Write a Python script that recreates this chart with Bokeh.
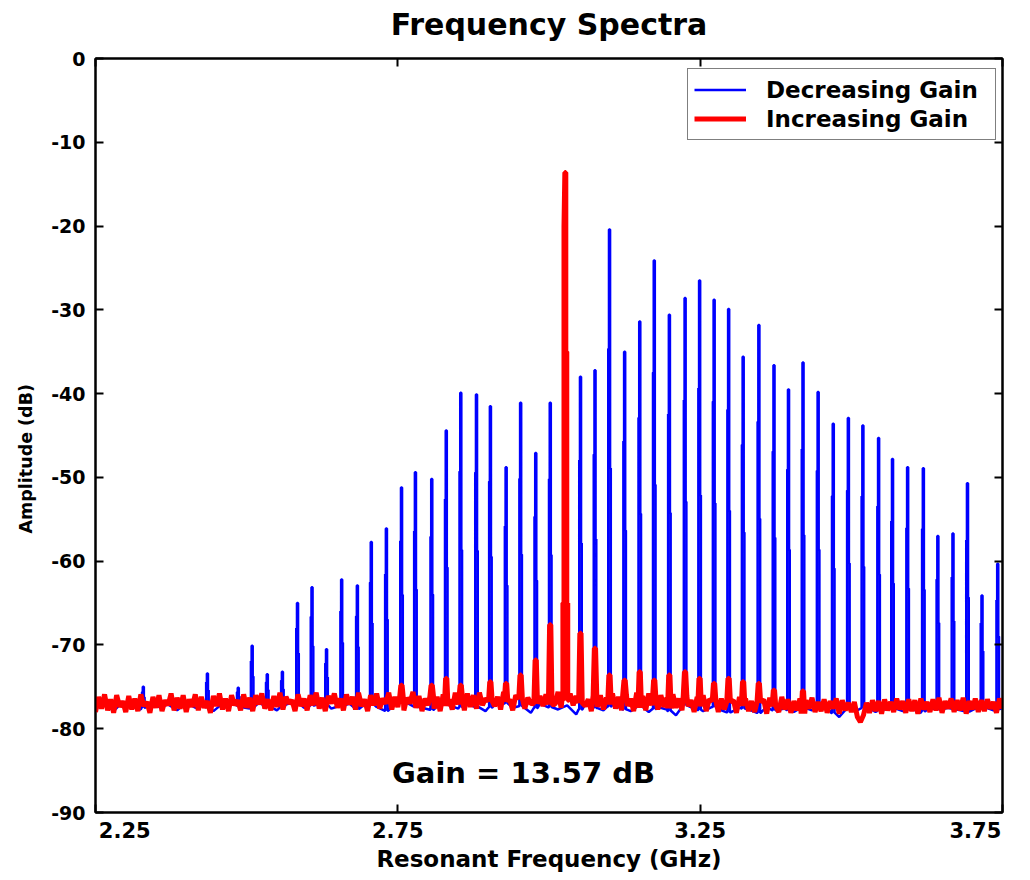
import numpy as np
from bokeh.plotting import figure
from bokeh.models import Range1d, FixedTicker, LinearAxis, Label, Legend, LegendItem, Title
from bokeh.embed import file_html
from bokeh.resources import INLINE

FONT = "DejaVu Sans"

# ---------------- data ----------------
chart_title = "Frequency Spectra"
x_ticks = [2.25, 2.75, 3.25, 3.75]
x_tick_labels = ["2.25", "2.75", "3.25", "3.75"]
y_ticks = [-90, -80, -70, -60, -50, -40, -30, -20, -10, 0]
y_tick_labels = ["-90", "-80", "-70", "-60", "-50", "-40", "-30", "-20", "-10", "0"]

# resonance spikes of the "Decreasing Gain" trace (GHz, dB peak)
blue_spike_ghz = [2.329, 2.435, 2.486, 2.509, 2.534, 2.559, 2.584, 2.608, 2.632, 2.657,
                  2.683, 2.706, 2.731, 2.756, 2.779, 2.806, 2.830, 2.854, 2.880, 2.903,
                  2.929, 2.953, 2.978, 3.002, 3.052, 3.076, 3.100, 3.125, 3.150, 3.174,
                  3.199, 3.225, 3.249, 3.273, 3.297, 3.321, 3.347, 3.372, 3.396, 3.420,
                  3.445, 3.470, 3.495, 3.519, 3.545, 3.568, 3.593, 3.619, 3.643, 3.668,
                  3.692, 3.716, 3.742]
blue_spike_db = [-75.0, -73.4, -75.1, -70.1, -73.5, -73.2, -65.0, -63.1, -70.5, -62.2,
                 -62.9, -57.7, -56.1, -51.2, -49.4, -50.2, -44.4, -39.9, -40.1, -41.5,
                 -48.8, -41.1, -47.1, -41.1, -38.0, -37.2, -20.4, -35.0, -31.4, -24.1,
                 -30.6, -28.6, -26.5, -28.8, -29.9, -35.6, -31.8, -36.6, -39.5, -36.3,
                 -39.8, -43.6, -42.9, -43.8, -45.3, -47.8, -48.8, -48.9, -57.0, -56.7,
                 -50.7, -64.1, -60.3]

# small bumps of the "Increasing Gain" trace
red_spike_ghz = [2.756, 2.806, 2.830, 2.854, 2.903, 2.929, 2.953, 2.978, 3.002, 3.052,
                 3.076, 3.100, 3.125, 3.150, 3.174, 3.199, 3.225, 3.249, 3.273, 3.297,
                 3.321, 3.347, 3.372, 3.420]
red_spike_db = [-74.8, -74.8, -74.0, -74.8, -74.4, -74.6, -73.6, -71.8, -67.6, -68.6,
                -70.4, -73.6, -74.2, -73.2, -74.2, -73.6, -73.2, -74.0, -74.6, -74.0,
                -74.4, -74.6, -75.4, -75.5]

# dominant mode of the "Increasing Gain" trace
red_peak_ghz = 3.027
red_peak_offset_ghz = [-0.0055, -0.0040, -0.0040, -0.0022, -0.0022, -0.0008, 0.0008,
                       0.0008, 0.0024, 0.0024, 0.0040, 0.0040, 0.0055]
red_peak_db = [-76.6, -76.6, -65.0, -65.0, -20.1, -13.6, -13.6,
               -35.0, -35.0, -65.0, -65.0, -76.6, -76.6]

# noise floor, Decreasing Gain (2.25 .. 3.75 GHz, 101 samples)
blue_floor_db = [-77.6, -77.0, -77.9, -76.8, -77.3, -77.7, -76.9, -77.4, -77.1, -77.8,
                 -76.9, -77.5, -77.2, -77.9, -77.0, -76.7, -77.4, -77.6, -76.9, -77.3,
                 -77.8, -77.1, -76.8, -77.5, -77.2, -76.9, -77.6, -77.3, -77.0, -77.7,
                 -76.8, -77.4, -77.9, -77.1, -76.7, -77.3, -77.5, -77.8, -76.9, -77.2,
                 -77.6, -77.0, -77.4, -77.9, -77.1, -76.8, -77.5, -77.3, -78.1, -77.0,
                 -77.4, -77.7, -77.2, -78.3, -77.0, -77.5, -77.8, -77.1, -77.6, -77.9,
                 -77.3, -78.0, -77.4, -77.7, -78.4, -77.2, -77.6, -77.9, -77.3, -77.8,
                 -78.1, -77.5, -77.7, -78.2, -77.4, -77.9, -77.6, -78.0, -77.5, -77.8,
                 -77.3, -77.9, -78.6, -77.6, -77.8, -77.4, -78.0, -77.7, -77.5, -77.9,
                 -77.6, -78.1, -77.4, -77.8, -77.5, -77.7, -78.0, -77.6, -77.3, -77.8,
                 -77.5]

# noise floor, Increasing Gain (2.25 .. 3.75 GHz, 301 samples)
red_floor_db = [-78.0, -76.2, -77.6, -75.9, -77.8, -76.5, -78.1, -76.0, -77.4, -76.7,
                -78.0, -76.1, -77.7, -76.4, -77.9, -75.9, -77.3, -76.8, -78.1, -76.2,
                -77.5, -76.0, -77.9, -76.6, -77.2, -75.8, -77.8, -76.3, -77.6, -76.0,
                -78.0, -76.5, -77.4, -75.9, -77.8, -76.2, -77.5, -76.7, -78.1, -76.1,
                -77.3, -75.8, -77.7, -76.4, -77.9, -76.0, -77.2, -76.6, -77.8, -75.9,
                -77.5, -76.3, -77.9, -76.0, -77.1, -75.8, -77.6, -76.5, -77.8, -76.1,
                -77.4, -75.7, -77.7, -76.2, -77.0, -76.6, -77.9, -75.9, -77.3, -76.4,
                -77.8, -76.0, -77.2, -75.7, -77.6, -76.3, -77.9, -76.1, -77.0, -75.8,
                -77.5, -76.4, -77.8, -75.9, -77.1, -76.2, -77.7, -75.7, -77.3, -76.5,
                -77.9, -76.0, -77.2, -75.8, -77.6, -76.4, -77.0, -75.7, -77.7, -76.2,
                -77.4, -75.9, -77.8, -76.3, -77.0, -75.6, -77.5, -76.1, -77.9, -76.4,
                -77.2, -75.8, -77.6, -76.2, -77.9, -75.9, -77.3, -76.5, -77.7, -75.7,
                -77.1, -76.3, -77.8, -75.8, -77.4, -76.0, -77.6, -75.7, -77.2, -76.4,
                -77.9, -75.9, -77.3, -76.2, -77.7, -75.6, -77.1, -76.5, -77.8, -76.0,
                -77.4, -75.8, -77.6, -76.3, -77.0, -75.7, -77.9, -76.1, -77.3, -75.9,
                -77.7, -76.2, -77.1, -75.6, -77.5, -76.4, -77.8, -75.8, -77.2, -76.1,
                -77.6, -75.9, -77.3, -76.5, -77.9, -75.7, -77.4, -76.0, -77.7, -76.3,
                -77.1, -75.8, -77.6, -76.2, -77.8, -75.9, -77.3, -76.4, -77.9, -75.7,
                -77.5, -76.1, -77.8, -75.8, -77.2, -76.5, -77.7, -76.0, -77.4, -76.3,
                -77.9, -75.9, -77.5, -76.4, -77.8, -76.1, -77.3, -76.6, -78.0, -76.2,
                -77.6, -76.0, -77.9, -76.5, -77.4, -76.2, -78.0, -76.4, -77.7, -76.1,
                -77.8, -76.6, -78.1, -76.2, -77.5, -76.4, -77.9, -76.7, -78.0, -76.3,
                -77.6, -76.5, -78.2, -76.3, -77.8, -76.6, -78.0, -76.2, -77.7, -76.5,
                -78.1, -76.7, -77.8, -76.4, -78.2, -76.6, -77.6, -76.3, -78.0, -76.8,
                -77.9, -76.5, -78.1, -76.7, -77.6, -76.4, -78.2, -76.6, -77.8, -76.9,
                -78.0, -76.8, -78.6, -79.2, -78.4, -76.9, -78.1, -76.6, -77.9, -76.7,
                -78.2, -76.5, -77.8, -76.8, -78.0, -76.4, -77.7, -76.7, -78.1, -76.5,
                -77.9, -76.6, -78.2, -76.4, -77.7, -76.8, -78.0, -76.5, -77.8, -76.3,
                -78.1, -76.7, -77.6, -76.4, -78.0, -76.6, -77.8, -76.3, -78.2, -76.7,
                -77.7, -76.4, -78.0, -76.6, -77.9, -76.5, -77.6, -76.8, -78.1, -76.4,
                -77.6]

# ---------------- trace assembly ----------------
F_MIN, F_MAX = 2.25, 3.75
blue_floor_ghz = np.linspace(F_MIN, F_MAX, len(blue_floor_db))
red_floor_ghz = np.linspace(F_MIN, F_MAX, len(red_floor_db))

# spike profile: (frequency offset, fraction of the rise above the floor)
BLUE_SHAPE_OFF = [-0.0030, -0.0020, -0.0020, -0.0008, -0.0008, 0.0010, 0.0010, 0.0022, 0.0022, 0.0032]
BLUE_SHAPE_FRAC = [0.0, 0.0, 0.75, 0.75, 1.0, 1.0, 0.5, 0.5, 0.0, 0.0]
RED_SHAPE_OFF = [-0.0030, -0.0010, 0.0010, 0.0030]
RED_SHAPE_FRAC = [0.0, 1.0, 1.0, 0.0]


def assemble(fx, fy, sx, sy, offs, fracs, keep_out, extra=None):
    fx = np.asarray(fx, float)
    fy = np.asarray(fy, float)
    centres = list(sx) + ([extra[0]] if extra else [])
    mask = np.ones(len(fx), bool)
    for c in centres:
        mask &= np.abs(fx - c) > keep_out
    xs = list(fx[mask])
    ys = list(fy[mask])
    for f, h in zip(sx, sy):
        base = float(np.interp(f, fx, fy))
        for o, fr in zip(offs, fracs):
            xs.append(f + o)
            ys.append(base + fr * (h - base))
    if extra:
        c, offsets, levels = extra
        for o, lv in zip(offsets, levels):
            xs.append(c + o)
            ys.append(lv)
    order = np.argsort(np.array(xs), kind="stable")
    return np.array(xs)[order], np.array(ys)[order]


bx, by = assemble(blue_floor_ghz, blue_floor_db, blue_spike_ghz, blue_spike_db,
                  BLUE_SHAPE_OFF, BLUE_SHAPE_FRAC, 0.004)
rx, ry = assemble(red_floor_ghz, red_floor_db, red_spike_ghz, red_spike_db,
                  RED_SHAPE_OFF, RED_SHAPE_FRAC, 0.0032,
                  extra=(red_peak_ghz, red_peak_offset_ghz, red_peak_db))

# ---------------- figure ----------------
p = figure(width=1030, height=880, title=None,
           x_range=Range1d(F_MIN, F_MAX), y_range=Range1d(-90, 0),
           output_backend="svg", toolbar_location=None,
           min_border_left=95, min_border_right=28,
           min_border_top=58, min_border_bottom=68,
           background_fill_color="white", border_fill_color="white")

p.xgrid.visible = False
p.ygrid.visible = False
p.outline_line_color = "black"
p.outline_line_width = 2

rb = p.line(bx, by, line_color="#0000ff", line_width=2.5)
rr = p.line(rx, ry, line_color="#ff0000", line_width=5)


def style_axis(ax):
    ax.axis_line_color = "black"
    ax.axis_line_width = 2
    ax.major_tick_in = 8
    ax.major_tick_out = 0
    ax.minor_tick_in = 0
    ax.minor_tick_out = 0
    ax.major_tick_line_width = 2
    ax.major_tick_line_color = "black"
    ax.major_label_text_font = FONT
    ax.major_label_text_font_style = "bold"
    ax.major_label_text_color = "black"
    ax.axis_label_text_font = FONT
    ax.axis_label_text_font_style = "bold"
    ax.axis_label_text_color = "black"


# x axis (end labels sit inside the frame corners, as in the original)
xa = p.xaxis[0]
style_axis(xa)
xa.ticker = FixedTicker(ticks=x_ticks)
ovr = dict(zip(x_ticks, x_tick_labels))
ovr[x_ticks[0]] = "\u00a0" * 8 + x_tick_labels[0]
ovr[x_ticks[-1]] = x_tick_labels[-1] + "\u00a0" * 4
xa.major_label_overrides = ovr
xa.major_label_text_font_size = "21px"
xa.major_label_standoff = 6
xa.axis_label = "Resonant Frequency (GHz)"
xa.axis_label_text_font_size = "23px"
xa.axis_label_standoff = 0

ya = p.yaxis[0]
style_axis(ya)
ya.ticker = FixedTicker(ticks=y_ticks)
ya.major_label_overrides = dict(zip(y_ticks, y_tick_labels))
ya.major_label_text_font_size = "19px"
ya.major_label_standoff = 10

ytitle = Title(text="Amplitude (dB)", align="left", offset=279, standoff=26,
               text_font=FONT, text_font_size="17.5px", text_font_style="bold",
               text_color="black")
p.add_layout(ytitle, "left")

# top edge: box ticks, carrying the chart title above the frame
top = LinearAxis(ticker=FixedTicker(ticks=x_ticks))
style_axis(top)
top.major_label_text_font_size = "0px"
top.major_label_standoff = 0
top.major_label_overrides = {t: "" for t in x_ticks}
top.axis_label = chart_title
top.axis_label_text_font_size = "30px"
top.axis_label_standoff = 17
p.add_layout(top, "above")

right = LinearAxis(ticker=FixedTicker(ticks=y_ticks))
style_axis(right)
right.major_label_text_font_size = "0px"
right.major_label_standoff = 0
right.major_label_overrides = {t: "" for t in y_ticks}
p.add_layout(right, "right")

gain = Label(x=2.958, y=-85.3, text="Gain = 13.57 dB",
             text_align="center", text_baseline="middle",
             text_font=FONT, text_font_size="29px", text_font_style="bold",
             text_color="black")
p.add_layout(gain)

legend = Legend(items=[LegendItem(label="Decreasing Gain", renderers=[rb]),
                       LegendItem(label="Increasing Gain", renderers=[rr])],
                location=(592, 672))
legend.label_text_font = FONT
legend.label_text_font_style = "bold"
legend.label_text_font_size = "23px"
legend.label_text_color = "black"
legend.glyph_width = 52
legend.glyph_height = 29
legend.label_height = 29
legend.label_width = 223
legend.label_standoff = 20
legend.padding = 6
legend.spacing = 0
legend.border_line_color = "black"
legend.border_line_width = 1.5
legend.background_fill_color = "white"
legend.background_fill_alpha = 1.0
p.add_layout(legend)

open("out.html", "w").write(file_html(p, INLINE))
